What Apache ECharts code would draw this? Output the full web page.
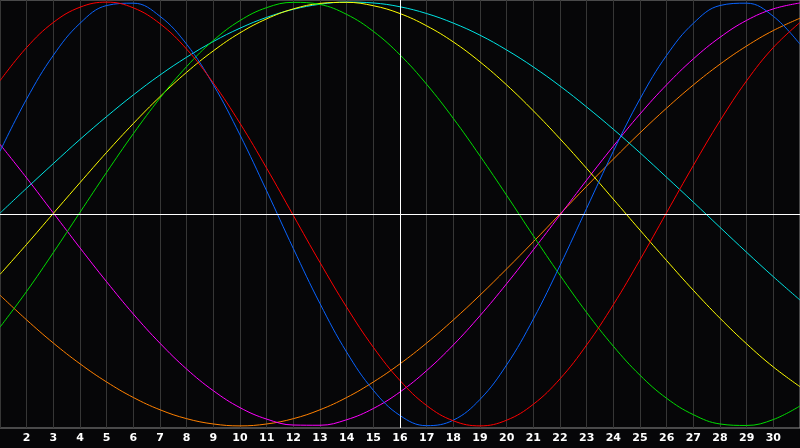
<!DOCTYPE html>
<html>
<head>
    <meta charset="utf-8">
    <title>biorhythm</title>
    <style>
        html,body,#chart{
            height: 100%;
            width: 100%;
            padding: 0;
            margin: 0;
            background: #060608;
        }
    </style>
</head>
<body>
    <div id="chart"></div>
    <script src="https://cdn.jsdelivr.net/npm/echarts@6/dist/echarts.min.js"></script>
    <script>
        // days of the month
        var days = [1,2,3,4,5,6,7,8,9,10,11,12,13,14,15,16,17,18,19,20,21,22,23,24,25,26,27,28,29,30,31];

        // values, -1 .. 1
        var red = [0.629,0.786,0.904,0.976,1.000,0.973,0.898,0.778,0.618,0.428,0.216,-0.007,-0.229,-0.440,-0.629,-0.786,-0.904,-0.976,-1.000,-0.973,-0.898,-0.778,-0.618,-0.428,-0.216,0.007,0.229,0.440,0.629,0.786,0.904];
        var blue = [0.296,0.543,0.749,0.900,0.984,0.995,0.933,0.801,0.610,0.373,0.109,-0.163,-0.423,-0.652,-0.832,-0.951,-0.999,-0.973,-0.875,-0.712,-0.496,-0.243,0.027,0.296,0.543,0.749,0.900,0.984,0.995,0.933,0.801];
        var green = [-0.534,-0.365,-0.182,0.008,0.197,0.379,0.547,0.696,0.819,0.913,0.974,0.999,0.989,0.942,0.862,0.751,0.612,0.451,0.274,0.088,-0.103,-0.289,-0.465,-0.624,-0.761,-0.870,-0.947,-0.991,-0.998,-0.970,-0.906];
        var cyan = [0.004,0.122,0.238,0.352,0.460,0.562,0.656,0.740,0.814,0.877,0.928,0.966,0.990,1.000,0.996,0.978,0.946,0.901,0.844,0.774,0.694,0.604,0.505,0.400,0.289,0.173,0.056,-0.063,-0.181,-0.296,-0.406];
        var yellow = [-0.285,-0.143,0.003,0.148,0.291,0.427,0.554,0.669,0.770,0.855,0.921,0.968,0.994,0.999,0.983,0.946,0.888,0.812,0.718,0.609,0.487,0.355,0.215,0.070,-0.076,-0.220,-0.360,-0.492,-0.613,-0.722,-0.815];
        var magenta = [0.329,0.170,0.005,-0.160,-0.320,-0.472,-0.610,-0.732,-0.834,-0.914,-0.968,-0.996,-0.997,-0.971,-0.918,-0.840,-0.739,-0.618,-0.480,-0.329,-0.169,-0.005,0.160,0.320,0.472,0.610,0.732,0.834,0.914,0.968,0.996];
        var orange = [-0.383,-0.500,-0.609,-0.707,-0.793,-0.866,-0.924,-0.966,-0.991,-1.000,-0.991,-0.966,-0.924,-0.866,-0.793,-0.707,-0.609,-0.500,-0.383,-0.259,-0.131,0.000,0.131,0.259,0.383,0.500,0.609,0.707,0.793,0.866,0.924];

        var curves = [
            ['orange', orange, '#ff8000'],
            ['magenta', magenta, '#ff00ff'],
            ['cyan', cyan, '#00e4e4'],
            ['yellow', yellow, '#ffff00'],
            ['green', green, '#00dc00'],
            ['blue', blue, '#0a64ff'],
            ['red', red, '#ff0000']
        ];

        function pairs(vals){
            return days.map(function(d, i){ return [d, vals[i]]; });
        }

        var series = curves.map(function(c){
            return {
                name: c[0],
                type: 'line',
                data: pairs(c[1]),
                smooth: 0.4,
                smoothConstraint: false,
                symbol: 'none',
                silent: true,
                lineStyle: { color: c[2], width: 1 }
            };
        });

        // white cross: zero line and middle day
        series.push({
            type: 'line',
            data: [],
            silent: true,
            markLine: {
                silent: true,
                symbol: 'none',
                label: { show: false },
                lineStyle: { color: '#ffffff', width: 1, type: 'solid' },
                data: [{ yAxis: 0 }, { xAxis: 16 }]
            }
        });

        var chart = echarts.init(document.getElementById('chart'));
        chart.setOption({
            backgroundColor: '#060608',
            animation: false,
            grid: {
                left: 0, right: 0, top: 0, bottom: 20,
                show: true,
                backgroundColor: '#060608',
                borderColor: '#8c8c8c',
                borderWidth: 1
            },
            xAxis: {
                type: 'value',
                min: 1, max: 31, interval: 1,
                axisLine: { show: true, lineStyle: { color: '#a0a0a0', width: 1 } },
                axisTick: { show: false },
                splitLine: { show: true, lineStyle: { color: '#363636', width: 1 } },
                axisLabel: {
                    showMinLabel: false,
                    showMaxLabel: false,
                    color: '#ffffff',
                    fontFamily: 'DejaVu Sans',
                    fontWeight: 'bold',
                    fontSize: 11,
                    margin: 5
                }
            },
            yAxis: {
                type: 'value',
                min: -1.01, max: 1.01,
                axisLine: { show: false },
                axisTick: { show: false },
                axisLabel: { show: false },
                splitLine: { show: false }
            },
            series: series
        });
    </script>
</body>
</html>
